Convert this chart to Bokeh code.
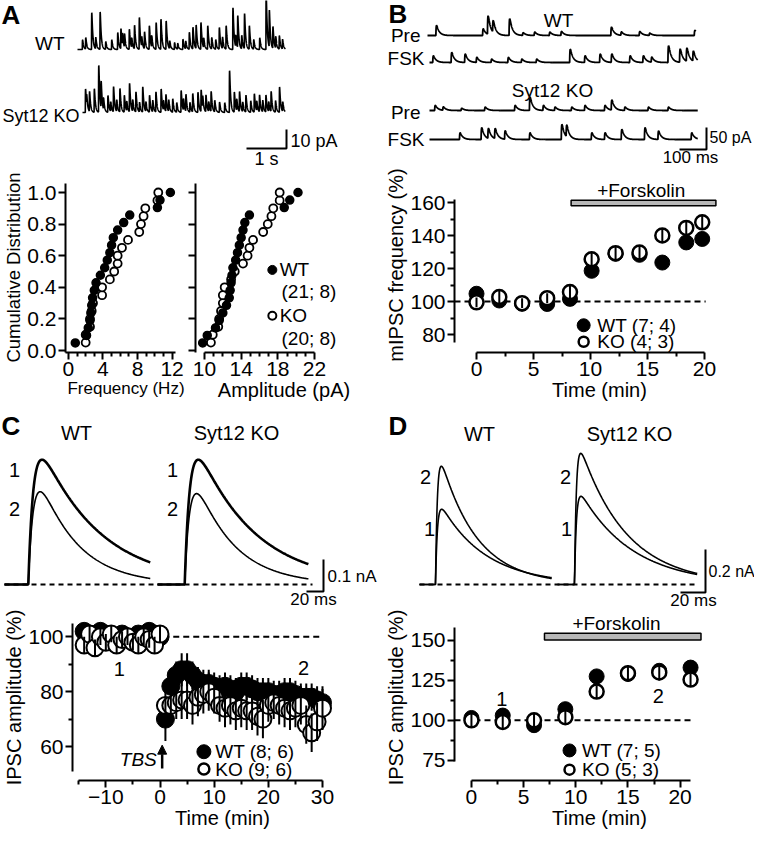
import numpy as np
from bokeh.plotting import figure
from bokeh.models import Range1d, FixedTicker, PrintfTickFormatter, Arrow, NormalHead
from bokeh.layouts import row, column
from bokeh.embed import file_html
from bokeh.resources import INLINE
from bokeh.core.properties import value

FONT = "Liberation Sans"

# ======================= DATA =======================
# Panel A: example mIPSC traces, events (time s, amplitude pA)
a_wt_evt_t = [0.12, 0.2, 0.35, 0.45, 0.56, 0.7, 0.85, 1.0, 1.08, 1.12, 1.17, 1.29, 1.35, 1.42, 1.54,
              1.6, 1.67, 1.79, 1.85, 1.96, 2.08, 2.21, 2.3, 2.42, 2.5, 2.63, 2.7, 2.79, 2.88, 2.96,
              3.08, 3.15, 3.25, 3.35, 3.45, 3.54, 3.62, 3.71, 3.88, 3.95, 4.0, 4.1, 4.17, 4.29,
              4.4, 4.55, 4.71, 4.79, 4.88, 4.95, 5.04, 5.12]
a_wt_evt_amp = [5, 6, 19.3, 6, 19.6, 4, 5, 8.8, 10.5, 6, 7, 10.5, 5, 12.3, 16.7,
                5, 8.8, 12.3, 6, 14, 15.8, 14.9, 4, 3.5, 3, 5.3, 4, 8.8, 11.4, 12.3,
                14, 5, 12.3, 6, 5, 11.4, 6, 12.3, 21.9, 6, 16.7, 7, 18.4, 12.3,
                5, 6, 29.8, 19.3, 11.4, 6, 7, 5]
a_wt_dur = 5.2
a_ko_evt_t = [0.07, 0.1, 0.17, 0.29, 0.4, 0.46, 0.52, 0.63, 0.7, 0.77, 0.85, 0.93, 1.04, 1.1, 1.17,
              1.25, 1.33, 1.42, 1.5, 1.58, 1.67, 1.75, 1.83, 1.96, 2.02, 2.08, 2.15, 2.25, 2.35,
              2.46, 2.52, 2.58, 2.68, 2.75, 2.88, 2.96, 3.0, 3.08, 3.15, 3.21, 3.3, 3.42, 3.55,
              3.67, 3.79, 3.85, 3.92, 4.0, 4.08, 4.2, 4.29, 4.35, 4.42, 4.5, 4.58, 4.65, 4.71,
              4.82, 4.92, 5.0]
a_ko_evt_amp = [12.3, 5, 10.5, 12.3, 24.6, 14, 6, 8.8, 5, 13.2, 6, 12.3, 8.8, 5, 14.9,
                6, 10.5, 5, 13.2, 5, 8.8, 6, 10.5, 12.3, 5, 8.8, 6, 7, 5,
                11.4, 6, 8.8, 5, 9.6, 10.5, 11.4, 6, 8.8, 5, 10.5, 6, 5.3, 5,
                21.9, 10.5, 6, 10.5, 5, 8.8, 6, 9.6, 5, 8.8, 6, 8.8, 5, 10.5,
                6, 13.2, 5]
a_ko_dur = 5.07
a_scale_time = 1.0    # s
a_scale_amp = 10.0    # pA

# Panel A: cumulative distributions
freq_wt = [0.8, 2.1, 2.3, 2.5, 2.6, 2.7, 2.8, 3.0, 3.2, 3.7, 4.2, 4.5, 4.8, 5.0, 5.2, 5.7, 6.4,
           7.1, 10.3, 10.6, 11.8]
freq_ko = [2.0, 2.0, 2.5, 2.7, 2.5, 2.85, 3.9, 3.9, 4.8, 5.3, 5.7, 5.7, 6.2, 6.9, 8.2, 8.4, 8.7,
           8.9, 10.3, 10.4]
amp_wt = [9.8, 10.3, 11.2, 11.6, 12.0, 12.4, 12.7, 12.8, 12.9, 13.0, 13.1, 13.4, 13.6, 13.8, 14.0,
          14.2, 14.4, 14.9, 18.7, 19.3, 20.2]
amp_ko = [10.7, 10.9, 11.5, 11.6, 11.8, 12.0, 12.0, 12.2, 12.9, 13.3, 14.2, 14.7, 14.9, 15.3, 16.4,
          16.9, 17.3, 17.5, 18.2, 18.2]
a_freq_ticks = [0, 4, 8, 12]
a_amp_ticks = [10, 14, 18, 22]
a_cum_ticks = [0.0, 0.2, 0.4, 0.6, 0.8, 1.0]

# Panel B: example traces, events (time ms, amplitude pA)
b_wt_pre_t = [31, 204, 222, 241, 302, 352, 395, 451, 494, 679, 716, 784, 821, 988]
b_wt_pre_amp = [22.7, 15, 41.7, 26.5, 37.9, 6, 7.6, 7.6, 9, 18.9, 7.6, 9, 5, 11.4]
b_wt_fsk_t = [12, 80, 130, 173, 228, 290, 340, 395, 519, 574, 630, 673, 741, 790, 821, 883, 926,
              951, 975]
b_wt_fsk_amp = [15, 22.7, 19, 11.4, 7.6, 11.4, 7.6, 7.6, 30, 15, 19, 19, 15, 15, 11.4, 37.9, 30,
                30, 22.7]
b_ko_pre_t = [19, 49, 117, 204, 315, 370, 420, 463, 525, 574, 648, 673, 722, 809, 883]
b_ko_pre_amp = [11.4, 7.6, 5, 7.6, 11.4, 30, 11.4, 7.6, 7.6, 11.4, 11.4, 22.7, 7.6, 7.6, 7.6]
b_ko_fsk_t = [111, 191, 216, 241, 278, 370, 488, 506, 599, 648, 710, 796, 846, 969, 994]
b_ko_fsk_amp = [15, 26.5, 22.7, 22.7, 19, 15, 34, 26.5, 15, 15, 22.7, 26.5, 19, 15, 22.7]
b_dur = 994
b_scale_time = 100.0   # ms
b_scale_amp = 50.0     # pA

# Panel B: mIPSC frequency time course
b_time = [0, 2, 4, 6.2, 8.2, 10.1, 12.2, 14.3, 16.3, 18.4, 19.8]
b_wt = [104.7, 100.6, 98.6, 98.5, 101.6, 118.6, 128.9, 128.3, 123.6, 135.8, 137.9]
b_wt_err = [3, 3, 2, 3, 3, 4, 3, 3, 4, 4, 4]
b_ko = [99.5, 102.7, 99.0, 102.0, 105.7, 125.6, 129.3, 129.7, 140.0, 144.6, 148.0]
b_ko_err = [3, 4, 3, 3, 4, 4, 4, 4, 4, 4, 4]
b_fsk = [8.3, 21.0]
b_x_ticks = [0, 5, 10, 15, 20]
b_y_ticks = [80, 100, 120, 140, 160]

# Panel C: averaged IPSCs (peak nA, decay ms), 1 = baseline, 2 = after TBS
c_wt_amp = [0.39, 0.29]
c_wt_tau = [70, 45]
c_ko_amp = [0.39, 0.284]
c_ko_tau = [68, 45]
c_rise = 6.0
c_wt_onset, c_ko_onset = 28, 32
c_wt_dur, c_ko_dur = 172, 178
c_scale_time, c_scale_amp = 20.0, 0.1

# Panel C: IPSC amplitude time course
c_time = [-14, -13, -12, -11, -10, -9, -8, -7, -6, -5, -4, -3, -2, -1, 0,
          1, 2, 3, 4, 5, 6, 7, 8, 9, 10, 11, 12, 13, 14, 15, 16, 17, 18, 19, 20,
          21, 22, 23, 24, 25, 26, 27, 28, 29, 30]
c_wt = [102, 101, 100, 102, 101, 100, 99, 101, 100, 99, 101, 100, 102, 101, 100,
        70, 82, 86, 88, 88, 86, 84, 83, 83, 82, 81, 82, 81, 80, 82, 82, 81, 80, 80, 80,
        79, 79, 80, 80, 79, 78, 78, 78, 77, 76]
c_wt_err = [2, 2, 2, 2, 2, 2, 2, 2, 2, 2, 2, 2, 2, 2, 2,
            8, 5, 5, 6, 6, 5, 5, 5, 5, 5, 5, 5, 5, 5, 5, 5, 5, 5, 5, 5,
            5, 5, 5, 5, 5, 5, 5, 5, 5, 5]
c_ko = [97, 101, 96, 100, 98, 101, 97, 99, 100, 98, 97, 100, 99, 97, 101,
        75, 75, 76, 77, 77, 75, 78, 79, 80, 78, 75, 74, 75, 73, 74, 73, 73, 71, 70, 75,
        76, 75, 74, 73, 74, 75, 68, 65, 69, 74]
c_ko_err = [3, 3, 3, 3, 3, 3, 3, 3, 3, 3, 3, 3, 3, 3, 3,
            6, 6, 6, 7, 7, 7, 7, 7, 7, 6, 6, 7, 7, 7, 7, 7, 7, 7, 7, 6,
            6, 7, 7, 7, 7, 7, 7, 7, 7, 8]
c_x_ticks = [-10, 0, 10, 20, 30]
c_y_ticks = [60, 80, 100]

# Panel D: averaged IPSCs, 1 = baseline, 2 = forskolin
d_wt_amp = [0.35, 0.55]
d_wt_tau = [36, 29]
d_ko_amp = [0.41, 0.61]
d_ko_tau = [42, 37]
d_rise = 1.5
d_wt_onset, d_ko_onset = 12.8, 13.6
d_wt_dur, d_ko_dur = 106, 112
d_scale_time, d_scale_amp = 20.0, 0.2

# Panel D: IPSC amplitude time course
d_time = [0, 3, 6, 9, 12, 15, 18, 21]
d_wt = [101.5, 103, 97, 107, 127.5, 129, 131, 133]
d_wt_err = [3, 3, 3, 3, 4, 4, 4, 4]
d_ko = [100, 99, 100, 102, 118, 129.5, 130, 125.5]
d_ko_err = [4, 4, 4, 4, 4, 5, 5, 4]
d_fsk = [7.0, 22.0]
d_x_ticks = [0, 5, 10, 15, 20]
d_y_ticks = [75, 100, 125, 150]


# ======================= HELPERS =======================
def lin(ra, va, rb, vb):
    k = (vb - va) / (rb - ra)
    return lambda r: va + (r - ra) * k


def psc(t, onset, amp, tr, td):
    s = np.clip(t - onset, 0, None)
    tpk = np.log(td / tr) * tr * td / (td - tr)
    kp = np.exp(-tpk / td) - np.exp(-tpk / tr)
    return amp * (np.exp(-s / td) - np.exp(-s / tr)) / kp


def events(t, times, amps, tr, td):
    y = np.zeros_like(t)
    for ti, ai in zip(times, amps):
        y = y + psc(t, ti, ai, tr, td)
    return y


def make_fig(w, h, xr, yr, ml=0, mr=0, mt=0, mb=0, axes=False):
    kw = {} if axes else dict(x_axis_type=None, y_axis_type=None)
    p = figure(width=w, height=h, x_range=Range1d(*xr), y_range=Range1d(*yr),
               output_backend="svg", toolbar_location=None, **kw)
    p.frame_align = False
    p.min_border_left = ml
    p.min_border_right = mr
    p.min_border_top = mt
    p.min_border_bottom = mb
    p.outline_line_color = None
    p.grid.visible = False
    p.background_fill_color = "white"
    p.border_fill_color = "white"
    return p


def style_axes(p):
    for ax in p.axis:
        ax.axis_line_width = 2
        ax.axis_line_color = "black"
        ax.major_tick_line_width = 2
        ax.minor_tick_line_width = 2
        ax.major_tick_line_color = "black"
        ax.minor_tick_line_color = "black"
        ax.major_tick_out = 7
        ax.major_tick_in = 0
        ax.minor_tick_out = 4
        ax.minor_tick_in = 0
        ax.major_label_text_font = FONT
        ax.major_label_text_font_size = "21px"
        ax.major_label_text_color = "black"
        ax.major_label_standoff = 2
        ax.axis_label_text_font = FONT
        ax.axis_label_text_font_size = "20px"
        ax.axis_label_text_font_style = "normal"
        ax.axis_label_text_color = "black"
        ax.axis_label_standoff = 0


def txt(p, x, y, s, size="19px", align="left", style="normal", baseline="middle"):
    p.text(x=[x], y=[y], text=[s], text_font=value(FONT), text_font_size=size,
           text_align=align, text_baseline=baseline, text_font_style=style,
           text_color="black")


def errbars(p, t, v, e, lw=2):
    v = np.asarray(v, float)
    e = np.asarray(e, float)
    p.segment(x0=t, y0=v - e, x1=t, y1=v + e, line_color="black", line_width=lw)


LW = 1.6

# ======================= PANEL A traces =======================
X = lin(85, 0.0, 125, 1.0)
Y = lin(57, 0.0, 38, 10.0)
pa = make_fig(382, 167, (X(8), X(390)), (Y(175), Y(8)))
t = np.arange(0, a_wt_dur, 0.001)
pa.line(t, events(t, a_wt_evt_t, a_wt_evt_amp, 0.003, 0.025), line_color="black", line_width=LW)
t = np.arange(0, a_ko_dur, 0.001)
pa.line(t + X(90), events(t, a_ko_evt_t, a_ko_evt_amp, 0.003, 0.025) + Y(120),
        line_color="black", line_width=LW)
bx, by = X(294), Y(156)
pa.line([bx - a_scale_time, bx, bx], [by, by, by + a_scale_amp], line_color="black", line_width=2)
txt(pa, X(9), Y(22), "A", size="26px", style="bold")
txt(pa, X(72), Y(51), "WT", align="right")
txt(pa, X(87), Y(123), "Syt12 KO", size="18px", align="right")
txt(pa, X(298), Y(148), "10 pA", size="18px")
txt(pa, X(274), Y(166), "1 s", size="18px", align="center")

# ======================= PANEL A cumulative =======================
Yc = lin(358, 0.0, 200, 1.0)
Xf = lin(71, 0.0, 179, 12.0)
pf = make_fig(188, 243, (Xf(68), Xf(194)), (Yc(360), Yc(190)), ml=60, mr=2, mt=15, mb=58, axes=True)
style_axes(pf)
pf.xaxis.ticker = FixedTicker(ticks=a_freq_ticks, minor_ticks=[1, 2, 3, 5, 6, 7, 9, 10, 11])
pf.yaxis.ticker = FixedTicker(ticks=a_cum_ticks, minor_ticks=[])
pf.yaxis.formatter = PrintfTickFormatter(format="%.1f")
pf.xaxis.axis_label = "Frequency (Hz)"
pf.xaxis.axis_label_text_font_size = "17px"
pf.xaxis.bounds = (Xf(68), 12.4)
pf.yaxis.axis_label = "Cumulative Distribution"
pf.yaxis.axis_label_text_font_size = "18.5px"
pf.yaxis.bounds = (Yc(360), 1.06)
fw = np.sort(freq_wt)
fk = np.sort(freq_ko)
pf.scatter(fk, np.arange(1, len(fk) + 1) / len(fk), size=8, marker="circle",
           fill_color="white", line_color="black", line_width=1.8)
pf.scatter(fw, np.arange(1, len(fw) + 1) / len(fw), size=8, marker="circle",
           fill_color="black", line_color="black", line_width=1.5)

Xa = lin(212, 10.0, 322, 22.0)
pam = make_fig(194, 243, (Xa(203), Xa(380)), (Yc(360), Yc(190)), ml=7, mr=10, mt=15, mb=58, axes=True)
style_axes(pam)
pam.xaxis.ticker = FixedTicker(ticks=a_amp_ticks, minor_ticks=[11, 12, 13, 15, 16, 17, 19, 20, 21])
pam.yaxis.ticker = FixedTicker(ticks=a_cum_ticks, minor_ticks=[])
pam.yaxis.major_label_overrides = {v: "" for v in a_cum_ticks}
pam.yaxis.major_label_standoff = 0
pam.xaxis.bounds = (10, 22)
pam.yaxis.bounds = (Yc(360), 1.06)
pam.xaxis.axis_label = "Amplitude (pA)"
aw = np.sort(amp_wt)
ak = np.sort(amp_ko)
pam.scatter(ak, np.arange(1, len(ak) + 1) / len(ak), size=8, marker="circle",
            fill_color="white", line_color="black", line_width=1.8)
pam.scatter(aw, np.arange(1, len(aw) + 1) / len(aw), size=8, marker="circle",
            fill_color="black", line_color="black", line_width=1.5)
pam.scatter([17.4], [0.51], size=9, marker="circle", fill_color="black", line_color="black")
pam.scatter([17.4], [0.22], size=8, marker="circle", fill_color="white", line_color="black", line_width=2)
txt(pam, 18.2, 0.51, "WT")
txt(pam, 18.4, 0.375, "(21; 8)")
txt(pam, 18.2, 0.22, "KO")
txt(pam, 18.4, 0.075, "(20; 8)")

# ======================= PANEL B traces =======================
X = lin(435, 0.0, 462, 100.0)
Y = lin(43, 0.0, 21, 50.0)
pb = make_fig(372, 167, (X(390), X(762)), (Y(175), Y(8)))
t = np.arange(0, b_dur, 0.5)
for ts, am, x0, base in [(b_wt_pre_t, b_wt_pre_amp, 0.0, Y(43)),
                         (b_wt_fsk_t, b_wt_fsk_amp, X(437), Y(70)),
                         (b_ko_pre_t, b_ko_pre_amp, X(437), Y(118)),
                         (b_ko_fsk_t, b_ko_fsk_amp, X(437), Y(147))]:
    pb.line(t + x0, events(t, ts, am, 1.0, 10.0) + base, line_color="black", line_width=1.8)
bx, by = X(714), Y(157)
pb.line([bx - b_scale_time, bx, bx], [by, by, by + b_scale_amp], line_color="black", line_width=2)
txt(pb, X(396), Y(21), "B", size="26px", style="bold")
txt(pb, X(566), Y(28), "WT", align="center")
txt(pb, X(428), Y(43), "Pre", align="right")
txt(pb, X(432), Y(66), "FSK", align="right")
txt(pb, X(560), Y(98), "Syt12 KO", align="center")
txt(pb, X(428), Y(120), "Pre", align="right")
txt(pb, X(432), Y(147), "FSK", align="right")
txt(pb, X(717), Y(145), "50 pA", size="16px")
txt(pb, X(698), Y(165), "100 ms", size="17px", align="center")

# ======================= PANEL B time course =======================
X = lin(484, 0.0, 712, 20.0)
Y = lin(342, 80.0, 210, 160.0)
pbt = make_fig(372, 243, (X(462), X(752)), (Y(360), Y(185)), ml=72, mr=10, mt=10, mb=58, axes=True)
style_axes(pbt)
pbt.xaxis.ticker = FixedTicker(ticks=b_x_ticks, minor_ticks=[2.5, 7.5, 12.5, 17.5])
pbt.yaxis.ticker = FixedTicker(ticks=b_y_ticks, minor_ticks=[90, 110, 130, 150])
pbt.xaxis.bounds = (0, 20)
pbt.yaxis.bounds = (75, 162)
pbt.xaxis.axis_label = "Time (min)"
pbt.yaxis.axis_label = "mIPSC frequency (%)"
pbt.line([X(462), 20.1], [100, 100], line_color="black", line_width=2, line_dash="6 4")
pbt.quad(left=[b_fsk[0]], right=[b_fsk[1]], bottom=[158.0], top=[161.4],
         fill_color="#b8b8b8", line_color="black", line_width=1.5)
txt(pbt, (b_fsk[0] + b_fsk[1]) / 2 - 0.2, 167.3, "+Forskolin", size="19px", align="center")
errbars(pbt, b_time, b_wt, b_wt_err)
pbt.scatter(b_time, b_wt, size=15, marker="circle", fill_color="black", line_color="black")
pbt.scatter(b_time, b_ko, size=14, marker="circle", fill_color="white", line_color="black", line_width=2.5)
errbars(pbt, b_time, b_ko, b_ko_err)
pbt.scatter([9.4], [85.6], size=13, marker="circle", fill_color="black", line_color="black")
pbt.scatter([9.4], [75.6], size=10, marker="circle", fill_color="white", line_color="black", line_width=2.5)
txt(pbt, 10.6, 85.6, "WT (7; 4)")
txt(pbt, 10.6, 75.6, "KO (4; 3)")

# ======================= PANEL C traces =======================
X = lin(12, 0.0, 29, 20.0)
Y = lin(593, 0.0, 561, 0.1)
pc = make_fig(382, 200, (X(8), X(390)), (Y(619), Y(419)))
pc.line([0, X(320)], [0, 0], line_color="black", line_width=2, line_dash="5 4")
t = np.arange(0, c_wt_dur, 0.5)
for i, lw in enumerate([2.6, 1.6]):
    pc.line(t, psc(t, c_wt_onset, c_wt_amp[i], c_rise, c_wt_tau[i]), line_color="black", line_width=lw)
t = np.arange(0, c_ko_dur, 0.5)
for i, lw in enumerate([2.6, 1.6]):
    pc.line(t + X(165), psc(t, c_ko_onset, c_ko_amp[i], c_rise, c_ko_tau[i]),
            line_color="black", line_width=lw)
bx, by = X(331), Y(600)
pc.line([bx - c_scale_time, bx, bx], [by, by, by + c_scale_amp], line_color="black", line_width=2)
txt(pc, X(9), Y(434), "C", size="26px", style="bold")
txt(pc, X(84), Y(441), "WT", size="20px", align="center")
txt(pc, X(244), Y(441), "Syt12 KO", size="20px", align="center")
txt(pc, X(22), Y(478), "1", size="20px", align="center")
txt(pc, X(22), Y(517), "2", size="20px", align="center")
txt(pc, X(180), Y(478), "1", size="20px", align="center")
txt(pc, X(180), Y(517), "2", size="20px", align="center")
txt(pc, X(335), Y(585), "0.1 nA", size="17px")
txt(pc, X(321), Y(608), "20 ms", size="17px", align="center")

# ======================= PANEL C time course =======================
X = lin(108, -10.0, 329, 30.0)
Y = lin(766, 60.0, 653, 100.0)
pct = make_fig(382, 227, (X(74), X(380)), (Y(801), Y(630)), ml=66, mr=10, mt=4, mb=57, axes=True)
style_axes(pct)
pct.xaxis.ticker = FixedTicker(ticks=c_x_ticks, minor_ticks=[-15, -5, 5, 15, 25])
pct.yaxis.ticker = FixedTicker(ticks=c_y_ticks, minor_ticks=[70, 90])
pct.xaxis.bounds = (-15, 30)
pct.yaxis.bounds = (51, 105)
pct.xaxis.axis_label = "Time (min)"
pct.yaxis.axis_label = "IPSC amplitude (%)"
pct.line([0.6, 30], [100, 100], line_color="black", line_width=2, line_dash="6 4")
errbars(pct, c_time, c_wt, c_wt_err)
pct.scatter(c_time, c_wt, size=18, marker="circle", fill_color="black", line_color="black")
pct.scatter(c_time, c_ko, size=17, marker="circle", fill_color="white", line_color="black", line_width=2)
errbars(pct, c_time, c_ko, c_ko_err)
txt(pct, -7.5, 88.1, "1", size="20px", align="center")
txt(pct, 26.5, 88.7, "2", size="20px", align="center")
txt(pct, -0.6, 55.2, "TBS", size="19px", align="right", style="italic")
pct.add_layout(Arrow(end=NormalHead(size=9, fill_color="black", line_color="black"),
                     x_start=0.4, y_start=52.0, x_end=0.4, y_end=60.5,
                     line_color="black", line_width=2.5))
pct.scatter([8.1], [58.1], size=14, marker="circle", fill_color="black", line_color="black")
pct.scatter([8.1], [51.8], size=11, marker="circle", fill_color="white", line_color="black", line_width=2.5)
txt(pct, 10.2, 58.1, "WT (8; 6)")
txt(pct, 10.2, 51.8, "KO (9; 6)")

# ======================= PANEL D traces =======================
X = lin(427, 0.0, 452, 20.0)
Y = lin(593, 0.0, 550, 0.2)
pd_ = make_fig(372, 200, (X(390), X(762)), (Y(619), Y(419)))
pd_.line([0, X(705)], [0, 0], line_color="black", line_width=2, line_dash="5 4")
t = np.arange(0, d_wt_dur, 0.25)
for i in range(2):
    pd_.line(t, psc(t, d_wt_onset, d_wt_amp[i], d_rise, d_wt_tau[i]), line_color="black", line_width=1.6)
t = np.arange(0, d_ko_dur, 0.25)
for i in range(2):
    pd_.line(t + X(565), psc(t, d_ko_onset, d_ko_amp[i], d_rise, d_ko_tau[i]),
             line_color="black", line_width=1.6)
bx, by = X(713), Y(601)
pd_.line([bx - d_scale_time, bx, bx], [by, by, by + d_scale_amp], line_color="black", line_width=2)
txt(pd_, X(396), Y(434), "D", size="26px", style="bold")
txt(pd_, X(487), Y(442), "WT", size="20px", align="center")
txt(pd_, X(637), Y(442), "Syt12 KO", size="20px", align="center")
txt(pd_, X(433), Y(485), "2", size="20px", align="center")
txt(pd_, X(437), Y(537), "1", size="20px", align="center")
txt(pd_, X(573), Y(485), "2", size="20px", align="center")
txt(pd_, X(574), Y(537), "1", size="20px", align="center")
txt(pd_, X(716), Y(580), "0.2 nA", size="16px")
txt(pd_, X(701), Y(609), "20 ms", size="17px", align="center")

# ======================= PANEL D time course =======================
X = lin(478, 0.0, 582.7, 10.0)
Y = lin(782, 75.0, 657, 150.0)
pdt = make_fig(372, 227, (X(461), X(752)), (Y(803), Y(630)), ml=71, mr=10, mt=4, mb=57, axes=True)
style_axes(pdt)
pdt.xaxis.ticker = FixedTicker(ticks=d_x_ticks, minor_ticks=[2.5, 7.5, 12.5, 17.5])
pdt.yaxis.ticker = FixedTicker(ticks=d_y_ticks, minor_ticks=[87.5, 112.5, 137.5])
pdt.xaxis.bounds = (0, 21)
pdt.yaxis.bounds = (74, 158)
pdt.xaxis.axis_label = "Time (min)"
pdt.yaxis.axis_label = "IPSC amplitude (%)"
pdt.line([X(461), 21.3], [100, 100], line_color="black", line_width=2, line_dash="6 4")
pdt.quad(left=[d_fsk[0]], right=[d_fsk[1]], bottom=[150.3], top=[154.4],
         fill_color="#b8b8b8", line_color="black", line_width=1.5)
txt(pdt, 13.9, 160.3, "+Forskolin", size="19px", align="center")
errbars(pdt, d_time, d_wt, d_wt_err)
pdt.scatter(d_time, d_wt, size=15, marker="circle", fill_color="black", line_color="black")
pdt.scatter(d_time, d_ko, size=14, marker="circle", fill_color="white", line_color="black", line_width=2.5)
errbars(pdt, d_time, d_ko, d_ko_err)
txt(pdt, 2.9, 113.2, "1", size="20px", align="center")
txt(pdt, 17.9, 115.2, "2", size="20px", align="center")
pdt.scatter([9.4], [81.2], size=13, marker="circle", fill_color="black", line_color="black")
pdt.scatter([9.4], [69.2], size=10, marker="circle", fill_color="white", line_color="black", line_width=2.5)
txt(pdt, 10.6, 81.2, "WT (7; 5)")
txt(pdt, 10.6, 69.2, "KO (5; 3)")

# ======================= LAYOUT =======================
left = column(pa, row(pf, pam, spacing=0), pc, pct, spacing=0)
right = column(pb, pbt, pd_, pdt, spacing=0)
layout = row(left, right, spacing=0)

open("out.html", "w").write(file_html(layout, INLINE))
